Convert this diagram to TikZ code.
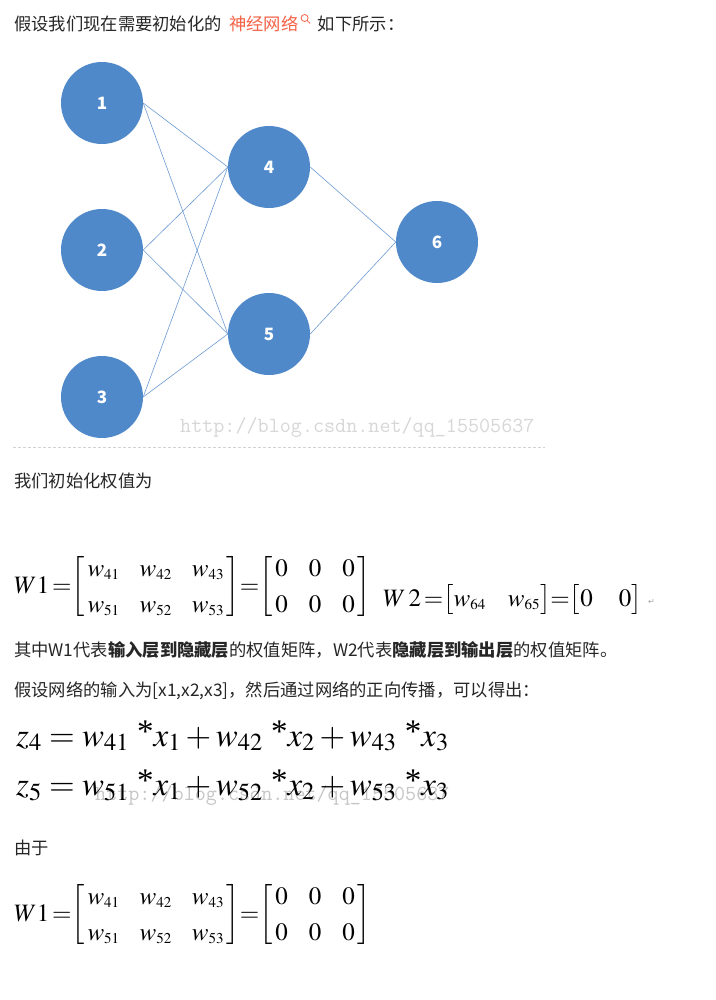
\documentclass[tikz,border=0pt]{standalone}
\usepackage{amsmath}
\usepackage{mathptmx}
\usepackage[no-math]{fontspec}
\setmainfont{Liberation Serif}
\newfontfamily\cjk{Noto Sans CJK SC}
\newfontfamily\symb{DejaVu Sans}
\usetikzlibrary{positioning}

\definecolor{neuron}{RGB}{80,137,202}
\definecolor{synapse}{RGB}{110,155,210}
\definecolor{csdnred}{RGB}{245,98,70}
\definecolor{marktext}{RGB}{215,215,215}

\tikzset{
  neuron/.style={circle, fill=neuron, minimum size=82pt, inner sep=0pt,
    text=white, font=\cjk\bfseries\fontsize{17}{17}\selectfont},
  synapse/.style={draw=synapse, line width=0.6pt},
  para/.style={anchor=base west, inner sep=0pt, text=black!85,
    font=\cjk\fontsize{17.3}{20}\selectfont},
  eq/.style={anchor=west, inner sep=0pt, font=\fontsize{25}{30}\selectfont},
  zeq/.style={anchor=base west, inner sep=0pt, font=\fontsize{33}{38}\selectfont},
  stamp/.style={anchor=base west, inner sep=0pt, text=marktext,
    font=\ttfamily\fontsize{21.5}{21.5}\selectfont}
}

\newcommand{\wsub}[1]{w_{\scriptscriptstyle #1}}
\newcommand{\wmat}{\renewcommand{\arraystretch}{1.2}%
  \delimiterfactor=780 \delimitershortfall=30pt
  $W1\,{=}\!\setlength{\arraycolsep}{10pt}%
  \begin{bmatrix}\,\wsub{41} & \wsub{42} & \wsub{43}\,\\ \,\wsub{51} & \wsub{52} & \wsub{53}\,\end{bmatrix}%
  \!{=}\!\setlength{\arraycolsep}{10.5pt}\begin{bmatrix}\,0 & 0 & 0\,\\ \,0 & 0 & 0\,\end{bmatrix}$}
\newcommand{\mul}{\ \raisebox{4pt}{*}}

\begin{document}
\begin{tikzpicture}[x=1pt, y=-1pt]
\useasboundingbox[fill=white] (0,0) rectangle (715,1000);

% first line
\node[para] (introa) at (14,31) {假设我们现在需要初始化的};
\node[para, text=csdnred] (nn) at ([xshift=7pt]introa.base east) {神经网络};
\coordinate (lens) at ([xshift=6pt, yshift=13pt]nn.base east);
\draw[csdnred, line width=0.8pt] (lens) circle[radius=3.5pt];
\draw[csdnred, line width=0.8pt] ([xshift=2.5pt, yshift=-2.5pt]lens) -- ([xshift=5.5pt, yshift=-5.5pt]lens);
\node[para] (introb) at ([xshift=19pt]nn.base east) {如下所示：};

% network
\node[neuron] (n1) at (102,103) {1};
\node[neuron] (n2) at (102,250) {2};
\node[neuron] (n3) at (102,397) {3};
\node[neuron] (n4) at (269,167) {4};
\node[neuron] (n5) at (269,334) {5};
\node[neuron] (n6) at (437,242) {6};
\foreach \i in {1,2,3}
  \foreach \h in {4,5}
    \draw[synapse] (n\i.east) -- (n\h.west);
\foreach \h in {4,5}
  \draw[synapse] (n\h.east) -- (n6.west);

\node[stamp] (stampa) at (180,432) {http://blog.csdn.net/qq\_15505637};
\draw[gray!35, dash pattern=on 3pt off 2pt] (13,447) -- (545,447);

% weights
\node[para] (weights) at (14,487) {我们初始化权值为};
\node[eq] (wone) at (14,587) {\wmat};
\node[eq] (wtwo) at (383,600) {$W\,2\,{=}\!\setlength{\arraycolsep}{11pt}\begin{bmatrix}\wsub{64} & \wsub{65}\end{bmatrix}\!{=}\!\setlength{\arraycolsep}{13pt}\begin{bmatrix}0 & 0\end{bmatrix}$};
\node[anchor=west, inner sep=0pt, text=gray!70, font=\symb\fontsize{8}{8}\selectfont]
  (ret) at ([xshift=6pt, yshift=-2pt]wtwo.east) {↵};
\node[para] (meaning) at (14,656) {其中W1代表\textbf{输入层到隐藏层}的权值矩阵，W2代表\textbf{隐藏层到输出层}的权值矩阵。};
\node[para] (forward) at (14,696) {假设网络的输入为[x1,x2,x3]，然后通过网络的正向传播，可以得出：};

% forward pass
\node[zeq] (zfour) at (16,746) {$z_4 = w_{41}\mul x_1 + w_{42}\mul x_2 + w_{43}\mul x_3$};
\node[stamp, text=gray!45] (stampb) at (95,800) {http://blog.csdn.net/qq\_15505637};
\node[zeq] (zfive) at (16,795) {$z_5 = w_{51}\mul x_1 + w_{52}\mul x_2 + w_{53}\mul x_3$};

\node[para] (since) at (14,854) {由于};
\node[eq] (wonebis) at (14,915) {\wmat};
\end{tikzpicture}
\end{document}
